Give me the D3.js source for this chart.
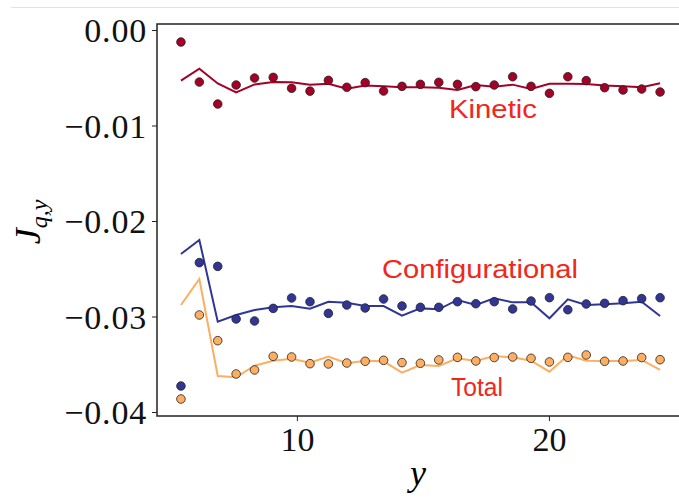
<!DOCTYPE html>
<html>
<head>
<meta charset="utf-8">
<script src="https://cdn.jsdelivr.net/npm/d3@7/dist/d3.min.js"></script>
<style>
	body { margin: 0; background: #fff; }
	svg { display: block; }
	.tick text { font-family: "Liberation Serif", "Times New Roman", serif; }
</style>
</head>
<body>
<svg id="chart" width="679" height="498"></svg>
<script>
// positions along y (bin centres)
const positions = [5.40, 6.13, 6.86, 7.59, 8.32, 9.06, 9.79, 10.52, 11.25, 11.98, 12.71, 13.44, 14.17,
	14.90, 15.63, 16.37, 17.10, 17.83, 18.56, 19.29, 20.02, 20.75, 21.48, 22.21, 22.94, 23.68, 24.41];

// scatter series (dots)
const kineticDots = [-0.00126, -0.00545, -0.00775, -0.00576, -0.00503, -0.00496, -0.00610, -0.00640, -0.00527,
	-0.00600, -0.00551, -0.00639, -0.00590, -0.00569, -0.00548, -0.00569, -0.00593, -0.00576, -0.00489,
	-0.00590, -0.00663, -0.00489, -0.00530, -0.00604, -0.00628, -0.00618, -0.00649];
const configDots = [-0.03728, -0.02436, -0.02475, -0.03026, -0.03047, -0.02915, -0.02806, -0.02845, -0.02967,
	-0.02880, -0.02911, -0.02817, -0.02890, -0.02904, -0.02904, -0.02845, -0.02866, -0.02845, -0.02921,
	-0.02838, -0.02803, -0.02929, -0.02869, -0.02862, -0.02834, -0.02813, -0.02803];
const totalDots = [-0.03864, -0.02984, -0.03253, -0.03602, -0.03560, -0.03417, -0.03424, -0.03494, -0.03497,
	-0.03487, -0.03469, -0.03459, -0.03483, -0.03490, -0.03455, -0.03428, -0.03466, -0.03430, -0.03424,
	-0.03438, -0.03476, -0.03428, -0.03403, -0.03469, -0.03466, -0.03430, -0.03452];

// line series
const kineticLine = [-0.00530, -0.00405, -0.00560, -0.00653, -0.00570, -0.00545, -0.00548, -0.00572, -0.00562,
	-0.00614, -0.00580, -0.00590, -0.00600, -0.00600, -0.00604, -0.00628, -0.00576, -0.00593, -0.00572,
	-0.00618, -0.00562, -0.00562, -0.00565, -0.00580, -0.00590, -0.00600, -0.00558];
const configLine = [-0.02346, -0.02199, -0.03054, -0.02984, -0.02932, -0.02904, -0.02890, -0.02918, -0.02845,
	-0.02855, -0.02890, -0.02890, -0.02991, -0.02915, -0.02925, -0.02827, -0.02880, -0.02810, -0.02852,
	-0.02852, -0.03019, -0.02820, -0.02880, -0.02872, -0.02862, -0.02845, -0.02995];
const totalLine = [-0.02880, -0.02607, -0.03623, -0.03637, -0.03515, -0.03463, -0.03442, -0.03483, -0.03420,
	-0.03490, -0.03463, -0.03469, -0.03588, -0.03508, -0.03518, -0.03438, -0.03466, -0.03414, -0.03428,
	-0.03463, -0.03578, -0.03407, -0.03463, -0.03466, -0.03466, -0.03455, -0.03560];

const xTicks = [10, 20];
const yTicks = [0, -0.01, -0.02, -0.03, -0.04];

const seriesNames = ['Kinetic', 'Configurational', 'Total'];
const seriesColors = ['#a50026', '#313695', '#fdae61'];

const margin = { left: 157, top: 24, right: 680, bottom: 416 };

const svg = d3.select('#chart');

// faint rule along the very top of the figure
svg.append('line')
	.attr('x1', 11).attr('x2', 679)
	.attr('y1', 7.5).attr('y2', 7.5)
	.attr('stroke', '#e2e2e2').attr('stroke-width', 1);

const x = d3.scaleLinear().domain([4.45, 25.2]).range([margin.left, margin.right]);
const y = d3.scaleLinear().domain([-0.04042, 0.00063]).range([margin.bottom, margin.top]);

const lineGen = d3.line()
	.x((d, i) => x(positions[i]))
	.y((d) => y(d));

const lines = [kineticLine, configLine, totalLine];
const dots = [kineticDots, configDots, totalDots];

// lines first, dots on top
lines.forEach((vals, k) => {
	svg.append('path')
		.datum(vals)
		.attr('fill', 'none')
		.attr('stroke', seriesColors[k])
		.attr('stroke-width', 2)
		.attr('d', lineGen);
});

dots.forEach((vals, k) => {
	svg.append('g')
		.selectAll('circle')
		.data(vals)
		.enter()
		.append('circle')
		.attr('cx', (d, i) => x(positions[i]))
		.attr('cy', (d) => y(d))
		.attr('r', 4.3)
		.attr('fill', seriesColors[k])
		.attr('stroke', '#222')
		.attr('stroke-width', 0.8);
});

// series labels
const labelPos = [
	{ x: 449, y: 118, w: 88 },
	{ x: 382, y: 278, w: 196 },
	{ x: 451, y: 396, w: 52 }
];
seriesNames.forEach((name, k) => {
	svg.append('text')
		.attr('x', labelPos[k].x)
		.attr('y', labelPos[k].y)
		.attr('textLength', labelPos[k].w)
		.attr('lengthAdjust', 'spacingAndGlyphs')
		.attr('font-family', '"Liberation Sans", Arial, sans-serif')
		.attr('font-size', 26.5)
		.attr('fill', '#f2261a')
		.text(name);
});

// axes
const fmtY = (d) => (d < 0 ? '\u2212' : '') + d3.format('.2f')(Math.abs(d));

const yAxis = svg.append('g')
	.attr('transform', 'translate(' + margin.left + ',0)')
	.call(d3.axisLeft(y).tickValues(yTicks).tickFormat(fmtY).tickSize(5).tickPadding(5));

const xAxis = svg.append('g')
	.attr('transform', 'translate(0,' + margin.bottom + ')')
	.call(d3.axisBottom(x).tickValues(xTicks).tickFormat(d3.format('d')).tickSize(5).tickPadding(6));

[yAxis, xAxis].forEach((ax) => {
	ax.select('.domain').remove();
	ax.selectAll('.tick line').attr('stroke', '#222').attr('stroke-width', 1);
	ax.selectAll('.tick text').attr('font-size', 34).attr('fill', '#111');
});
yAxis.selectAll('.tick text').attr('dy', '0.34em').attr('letter-spacing', 0.8);

// spines
svg.append('rect')
	.attr('x', margin.left).attr('y', margin.top)
	.attr('width', margin.right - margin.left)
	.attr('height', margin.bottom - margin.top)
	.attr('fill', 'none')
	.attr('stroke', '#222')
	.attr('stroke-width', 1.5);

// axis titles
svg.append('text')
	.attr('x', 418).attr('y', 485)
	.attr('text-anchor', 'middle')
	.attr('font-family', '"Liberation Serif", serif')
	.attr('font-style', 'italic')
	.attr('font-size', 36)
	.text('y');

const yTitle = svg.append('text')
	.attr('transform', 'translate(40,222) rotate(-90)')
	.attr('text-anchor', 'middle')
	.attr('font-family', '"Liberation Serif", serif')
	.attr('font-style', 'italic')
	.attr('font-size', 36);
yTitle.append('tspan').text('J');
yTitle.append('tspan').attr('font-size', 24).attr('dy', 7).text('q,y');
</script>
</body>
</html>
